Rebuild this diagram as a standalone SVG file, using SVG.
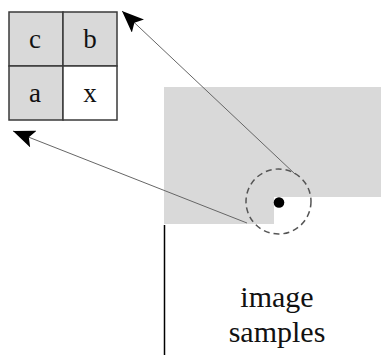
<svg xmlns="http://www.w3.org/2000/svg" width="381" height="355" viewBox="0 0 381 355">
<style>
.cell{stroke:#3a3a3a;stroke-width:1.5}
.g{fill:#d9d9d9}
.w{fill:#ffffff}
.lbl{font-family:"Liberation Serif","Times New Roman",serif;font-size:27px;fill:#111;text-anchor:middle}
.big{font-family:"Liberation Serif","Times New Roman",serif;font-size:30px;fill:#111;text-anchor:middle}
.conn{stroke:#666;stroke-width:1;fill:none;marker-end:url(#ah)}
</style>
<defs>
<marker id="ah" markerUnits="userSpaceOnUse" markerWidth="24" markerHeight="18" viewBox="0 0 24 18" refX="22" refY="9" orient="auto">
<path d="M0,0 L22,9 L0,18 L5,9 Z" fill="#000"/>
</marker>
</defs>
<g id="image-region">
<polygon points="164,87 381,87 381,197 274,197 274,224 164,224" fill="#d9d9d9"/>
<line x1="164.5" y1="225" x2="164.5" y2="355" stroke="#000" stroke-width="1.5"/>
<text class="big" x="277" y="307">image</text>
<text class="big" x="277" y="342">samples</text>
</g>
<g id="neighborhood">
<circle cx="278.5" cy="201.5" r="32.5" fill="none" stroke="#555" stroke-width="1.5" stroke-dasharray="6,4"/>
<circle cx="279" cy="202.5" r="5.3" fill="#000"/>
</g>
<g id="grid">
<rect class="cell g" x="9" y="12" width="54" height="54"/>
<rect class="cell g" x="63" y="12" width="54" height="54"/>
<rect class="cell g" x="9" y="66" width="54" height="54"/>
<rect class="cell w" x="63" y="66" width="54" height="54"/>
<text class="lbl" x="35" y="48">c</text>
<text class="lbl" x="90" y="48">b</text>
<text class="lbl" x="35" y="102">a</text>
<text class="lbl" x="90" y="102">x</text>
</g>
<g id="connectors">
<line class="conn" x1="295" y1="174" x2="122" y2="11"/>
<line class="conn" x1="247" y1="223" x2="13" y2="131"/>
</g>
</svg>
